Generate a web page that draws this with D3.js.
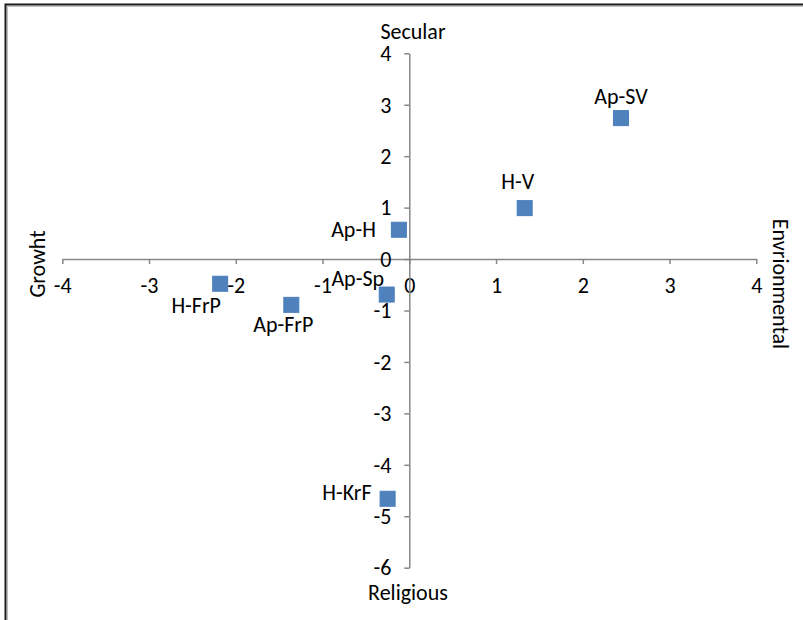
<!DOCTYPE html>
<html>
<head>
<meta charset="utf-8">
<script src="https://cdn.jsdelivr.net/npm/d3@7"></script>
<style>
  html, body { margin: 0; padding: 0; background: #fff; }
  svg { display: block; }
  text { font-family: Carlito, Calibri, Lato, "Liberation Sans", sans-serif; fill: #000; }
</style>
</head>
<body>
<svg id="chart" width="803" height="620"></svg>
<script>
// ---- data ----
const pointLabels = ["Ap-SV", "H-V", "Ap-H", "Ap-Sp", "H-FrP", "Ap-FrP", "H-KrF"];
const xValues = [2.44, 1.33, -0.12, -0.26, -2.18, -1.36, -0.25];
const yValues = [2.74, 0.99, 0.57, -0.69, -0.48, -0.89, -4.66];
const xTicks = [-4, -3, -2, -1, 0, 1, 2, 3, 4];
const yTicks = [-6, -5, -4, -3, -2, -1, 0, 1, 2, 3, 4];
const axisTitles = { top: "Secular", bottom: "Religious", left: "Growht", right: "Envrionmental" };

// ---- layout ----
const W = 803, H = 620;
const fontSize = 22;
const svg = d3.select("#chart");

const x = d3.scaleLinear().domain([-4, 4]).range([62.3, 756.3]);
const y = d3.scaleLinear().domain([-6, 4]).range([567.7, 53.3]);

// chart border (cropped frame)
svg.append("path").attr("d", `M7.5,${H} V6.5 H${W}`).attr("fill", "none")
  .attr("stroke", "#bdbdbd").attr("stroke-width", 1);
svg.append("path").attr("d", `M5.5,${H} V4.5 H${W}`).attr("fill", "none")
  .attr("stroke", "#1a1a1a").attr("stroke-width", 2);

const axisColor = "#878787";

// x axis through y = 0
const gx = svg.append("g").attr("transform", `translate(0,${y(0)})`)
  .call(d3.axisBottom(x).tickValues(xTicks).tickSize(5).tickSizeOuter(0).tickFormat(d => String(d)));
// y axis through x = 0
const gy = svg.append("g").attr("transform", `translate(${x(0)},0)`)
  .call(d3.axisLeft(y).tickValues(yTicks).tickSize(5).tickSizeOuter(0).tickPadding(13).tickFormat(d => String(d)));

[gx, gy].forEach(g => {
  g.select(".domain").attr("stroke", axisColor).attr("stroke-width", 1.5);
  g.selectAll(".tick line").attr("stroke", axisColor).attr("stroke-width", 1.5);
  g.selectAll(".tick text").attr("fill", "#000").style("font-size", fontSize + "px")
    .style("font-family", "Carlito, Calibri, Lato, 'Liberation Sans', sans-serif");
});
gx.selectAll(".tick text").attr("y", 0).attr("dy", 0).attr("transform", "translate(0,33.5)");
gy.selectAll(".tick text").attr("dy", "0.33em");

// markers
const markerSize = 15;
svg.append("g").selectAll("rect").data(pointLabels).join("rect")
  .attr("x", (d, i) => x(xValues[i]) - markerSize / 2)
  .attr("y", (d, i) => y(yValues[i]) - markerSize / 2)
  .attr("width", markerSize).attr("height", markerSize)
  .attr("fill", "#4F81BD").attr("stroke", "#4A7EBB").attr("stroke-width", 1);

// data labels: placement relative to marker centre
const labelPlacement = {
  "Ap-SV":  { dx: 0,   dy: -14, anchor: "middle" },
  "H-V":    { dx: -7,  dy: -19, anchor: "middle" },
  "Ap-H":   { dx: -23, dy: 7,   anchor: "end" },
  "Ap-Sp":  { dx: -29, dy: -9,  anchor: "middle" },
  "H-FrP":  { dx: -24, dy: 29,  anchor: "middle" },
  "Ap-FrP": { dx: -8,  dy: 27,  anchor: "middle" },
  "H-KrF":  { dx: -16, dy: 1,   anchor: "end" }
};
svg.append("g").selectAll("text").data(pointLabels).join("text")
  .attr("x", (d, i) => x(xValues[i]) + labelPlacement[d].dx)
  .attr("y", (d, i) => y(yValues[i]) + labelPlacement[d].dy)
  .attr("text-anchor", d => labelPlacement[d].anchor)
  .style("font-size", fontSize + "px")
  .text(d => d);

// axis titles
svg.append("text").attr("x", 413).attr("y", 39).attr("text-anchor", "middle")
  .style("font-size", fontSize + "px").text(axisTitles.top);
svg.append("text").attr("x", 408).attr("y", 600).attr("text-anchor", "middle")
  .style("font-size", fontSize + "px").text(axisTitles.bottom);
svg.append("text").attr("transform", "translate(45,264) rotate(-90)").attr("text-anchor", "middle")
  .style("font-size", fontSize + "px").text(axisTitles.left);
svg.append("text").attr("transform", "translate(773,284) rotate(90)").attr("text-anchor", "middle")
  .style("font-size", fontSize + "px").text(axisTitles.right);
</script>
</body>
</html>
